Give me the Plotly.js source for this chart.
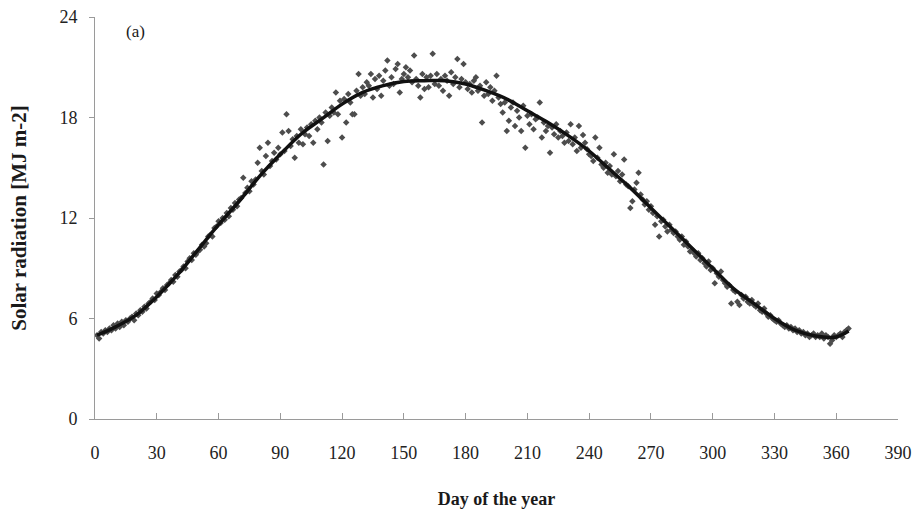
<!DOCTYPE html>
<html>
<head>
<meta charset="utf-8">
<script src="https://cdn.plot.ly/plotly-3.0.1.min.js"></script>
<style>
  html, body { margin: 0; padding: 0; background: #ffffff; }
  #chart { width: 915px; height: 518px; }
</style>
</head>
<body>
<div id="chart"></div>
<script>
// Daily measured solar radiation (MJ m-2), day 1 .. 366
const dailyRadiation = [
  5.0, 4.8, 5.2, 5.1, 5.3, 5.2, 5.4, 5.3, 5.6, 5.4,
  5.7, 5.5, 5.8, 5.6, 5.9, 5.8, 6.0, 6.1, 5.9, 6.3,
  6.2, 6.5, 6.4, 6.7, 6.6, 6.9, 7.0, 7.2, 7.1, 7.5,
  7.4, 7.6, 7.8, 7.7, 8.0, 8.1, 8.3, 8.2, 8.6, 8.5,
  8.8, 8.9, 9.1, 9.0, 9.4, 9.6, 9.5, 9.9, 9.8, 10.0,
  10.1, 10.4, 10.3, 10.5, 10.9, 11.0, 10.9, 11.4, 11.5, 11.8,
  11.7, 12.0, 11.9, 12.3, 12.1, 12.6, 12.5, 12.9, 12.7, 13.1,
  13.2, 14.4, 13.5, 13.8, 13.6, 14.2, 14.0, 14.3, 15.3, 16.2,
  14.8, 14.6, 15.7, 16.5, 15.1, 15.4, 15.9, 15.5, 16.2, 15.8,
  17.1, 16.0, 18.2, 17.2, 16.3, 16.7, 15.6, 16.9, 16.5, 17.3,
  16.4, 17.0, 17.4, 16.9, 17.6, 16.5, 17.8, 17.3, 18.0, 17.7,
  15.2, 18.3, 16.6, 18.1, 18.6, 18.3, 19.5, 18.2, 19.0, 16.8,
  19.1, 17.7, 19.4, 18.9, 18.2, 18.2, 19.6, 20.6, 19.3, 19.8,
  19.4, 20.1, 19.9, 20.6, 19.2, 20.3, 19.7, 20.5, 19.3, 20.2,
  20.8, 21.4, 19.9, 20.4, 20.0, 20.9, 21.2, 19.5, 20.3, 20.6,
  21.0, 20.4, 20.8, 20.1, 21.7, 20.3, 19.9, 19.2, 20.6, 19.7,
  20.4, 19.8, 20.5, 21.8, 20.0, 20.6, 19.9, 20.3, 19.6, 20.5,
  20.2, 19.3, 20.7, 20.0, 20.4, 21.5, 19.8, 20.3, 21.2, 20.1,
  19.7, 20.0, 19.5, 20.2, 20.4, 19.6, 19.9, 17.7, 19.3, 20.1,
  19.4, 19.8, 19.0, 19.6, 20.5, 19.2, 18.8, 18.3, 18.9, 17.2,
  17.8, 18.6, 18.9, 17.5, 18.4, 18.0, 17.2, 18.7, 16.2, 18.1,
  17.6, 18.2, 17.3, 17.9, 18.0, 18.9, 16.8, 17.7, 17.2, 17.5,
  15.9, 17.4, 17.0, 17.6, 16.8, 17.2, 16.9, 16.5, 17.1, 16.6,
  17.6, 16.4, 16.8, 16.0, 17.5, 16.2, 16.95, 16.5, 16.1, 15.8,
  15.7, 15.4, 16.8, 15.6, 16.2, 15.2, 15.0, 15.3, 14.7, 15.1,
  14.6, 15.8, 14.5, 14.8, 14.2, 14.6, 15.5, 14.0, 13.9, 12.6,
  13.0, 13.7, 14.1, 14.7, 13.4, 13.1, 12.8, 13.0, 12.5, 12.7,
  12.3, 11.6, 12.1, 10.9, 11.8, 11.9, 11.5, 11.2, 11.6, 11.3,
  11.1, 11.2, 10.9, 10.7, 10.9, 10.4, 10.6, 10.3, 10.0, 10.1,
  9.9, 9.7, 9.9, 9.5, 9.6, 9.3, 9.1, 9.4, 8.9, 9.0,
  8.1, 8.7, 8.5, 8.8, 8.3, 8.1, 7.9, 8.0, 6.9, 7.7,
  7.6, 7.0, 6.8, 7.4, 7.2, 7.3, 7.0, 6.9, 7.1, 6.8,
  6.7, 6.9, 6.5, 6.4, 6.6, 6.3, 6.1, 6.2, 6.0, 5.9,
  5.8, 5.9, 5.7, 5.6, 5.5, 5.6, 5.4, 5.5, 5.3, 5.4,
  5.2, 5.3, 5.1, 5.2, 5.0, 5.1, 4.9, 5.0, 5.1, 4.9,
  5.0, 4.9, 5.1, 4.8, 5.0, 4.9, 4.5, 4.7, 5.0, 4.9,
  5.0, 5.1, 4.9, 5.2, 5.3, 5.4
];
const days = dailyRadiation.map((_, i) => i + 1);

// Fitted seasonal curve, sampled along the year
const fitDays = [1, 10, 20, 30, 40, 50, 60, 70, 80, 90, 100, 110, 120, 130, 140, 150,
  160, 170, 180, 190, 200, 210, 220, 230, 240, 250, 260, 270, 280, 290, 300, 310,
  320, 330, 340, 350, 360, 366];
const fitValues = [5.0, 5.5, 6.2, 7.3, 8.6, 10.1, 11.6, 13.0, 14.5, 15.8, 17.0, 17.9, 18.8,
  19.5, 19.9, 20.15, 20.2, 20.2, 20.0, 19.6, 19.1, 18.4, 17.7, 16.9, 16.0, 14.9, 13.8,
  12.6, 11.4, 10.2, 9.0, 7.8, 6.9, 6.0, 5.3, 4.95, 4.9, 5.25];

const xTicks = [0, 30, 60, 90, 120, 150, 180, 210, 240, 270, 300, 330, 360, 390];
const yTicks = [0, 6, 12, 18, 24];

const serif = 'Liberation Serif, Times New Roman, serif';

const traces = [
  {
    x: days, y: dailyRadiation, type: 'scatter', mode: 'markers',
    marker: { symbol: 'diamond', size: 5, color: '#4d4d4d' },
    showlegend: false, hoverinfo: 'x+y'
  },
  {
    x: fitDays, y: fitValues, type: 'scatter', mode: 'lines',
    line: { color: '#111111', width: 3.5, shape: 'spline', smoothing: 1 },
    showlegend: false, hoverinfo: 'skip'
  }
];

const layout = {
  width: 915, height: 518,
  margin: { l: 95, r: 17, t: 17, b: 99 },
  paper_bgcolor: '#ffffff', plot_bgcolor: '#ffffff',
  font: { family: serif, color: '#1a1a1a', size: 17 },
  xaxis: {
    range: [0, 390], tickvals: xTicks, ticktext: xTicks.map(String),
    showgrid: false, zeroline: false,
    showline: true, linecolor: '#9a9a9a', linewidth: 1,
    ticks: 'inside', ticklen: 6, tickcolor: '#9a9a9a',
    ticklabelstandoff: 17,
    tickfont: { family: serif, size: 18, color: '#222' },
    title: { text: '<b>Day of the year</b>', font: { family: serif, size: 18, color: '#1a1a1a' }, standoff: 30 },
    automargin: false
  },
  yaxis: {
    range: [0, 24], tickvals: yTicks, ticktext: yTicks.map(String),
    showgrid: false, zeroline: false,
    showline: true, linecolor: '#9a9a9a', linewidth: 1,
    ticks: 'outside', ticklen: 5, tickcolor: '#9a9a9a',
    ticklabelstandoff: 8,
    tickfont: { family: serif, size: 18, color: '#222' },
    title: { text: '<b>Solar radiation [MJ m-2]</b>', font: { family: serif, size: 21, color: '#1a1a1a' }, standoff: 27 },
    automargin: false
  },
  annotations: [
    {
      text: '(a)', xref: 'paper', yref: 'paper', x: 0.036, y: 0.965,
      xanchor: 'left', yanchor: 'middle', showarrow: false,
      font: { family: serif, size: 17, color: '#1a1a1a' }
    }
  ]
};

Plotly.newPlot('chart', traces, layout, { displayModeBar: false, staticPlot: true });
</script>
</body>
</html>
